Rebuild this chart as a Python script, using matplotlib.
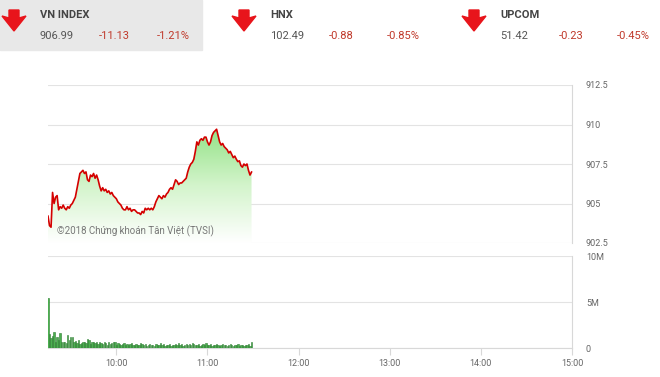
import matplotlib
matplotlib.use("Agg")
import matplotlib.pyplot as plt
from matplotlib.patches import Rectangle, Polygon
from matplotlib.colors import LinearSegmentedColormap
import numpy as np

# header quotes
names = ["VN INDEX", "HNX", "UPCOM"]
closes = ["906.99", "102.49", "51.42"]
changes = ["-11.13", "-0.88", "-0.23"]
pct_changes = ["-1.21%", "-0.85%", "-0.45%"]

# minutes since 9:15, one point per minute
start_min = 9 * 60 + 15
prices = [
    904.2, 903.6, 903.5, 905.7, 905.0, 905.4, 905.5, 904.6, 904.8, 904.7,
    904.9, 904.7, 904.6, 904.8, 904.7, 904.9, 905.0, 905.2, 905.4, 905.9,
    906.4, 906.9, 907.0, 907.1, 906.9, 907.0, 906.5, 906.4, 906.8, 906.7,
    906.9, 906.6, 906.8, 906.5, 906.1, 905.8, 906.0, 905.8, 905.9, 905.7,
    905.8, 905.6, 905.7, 905.5, 905.4, 905.3, 905.1, 905.0, 904.9, 904.7,
    904.6, 904.6, 904.8, 904.6, 904.7, 904.5, 904.6, 904.6, 904.5, 904.4,
    904.4, 904.3, 904.5, 904.4, 904.7, 904.6, 904.7, 904.6, 904.7, 904.6,
    904.8, 905.1, 905.3, 905.5, 905.4, 905.3, 905.5, 905.4, 905.6, 905.7,
    905.9, 906.0, 905.9, 906.2, 906.5, 906.4, 906.2, 906.3, 906.3, 906.4,
    906.5, 906.6, 907.0, 907.3, 907.5, 907.6, 907.8, 908.3, 908.9, 908.7,
    909.0, 909.1, 909.0, 909.2, 909.2, 908.9, 908.7, 908.9, 909.3, 909.5,
    909.6, 909.7, 909.3, 908.9, 908.7, 908.8, 908.6, 908.5, 908.4, 908.2,
    908.3, 908.1, 907.9, 908.0, 907.8, 907.65, 907.7, 907.4, 907.3, 907.5,
    907.4, 907.5, 907.1, 906.8, 906.99,
]
volumes = [  # million shares
    5.4, 1.5, 1.1, 1.3, 1.7, 0.7, 1.2, 0.9, 1.6, 0.6,
    0.6, 0.7, 0.5, 1.4, 0.9, 1.2, 1.2, 0.6, 0.8, 0.5,
    0.9, 0.4, 0.5, 0.6, 0.7, 0.5, 1.0, 0.9, 0.4, 0.6,
    0.7, 0.5, 0.6, 0.4, 0.7, 0.5, 0.4, 0.6, 0.5, 0.3,
    0.6, 0.4, 0.5, 0.6, 0.6, 0.3, 0.5, 0.4, 0.3, 0.4,
    0.5, 0.3, 0.4, 0.3, 0.4, 0.5, 0.3, 0.3, 0.4, 0.3,
    0.3, 0.5, 0.4, 0.3, 0.4, 0.2, 0.3, 0.4, 0.3, 0.3,
    0.2, 0.4, 0.3, 0.3, 0.5, 0.3, 0.4, 0.2, 0.3, 0.3,
    0.4, 0.2, 0.3, 0.3, 0.4, 0.3, 0.5, 0.3, 0.4, 0.2,
    0.3, 0.4, 0.3, 0.4, 0.3, 0.5, 0.4, 0.3, 0.3, 0.4,
    0.2, 0.3, 0.4, 0.3, 0.5, 0.3, 0.3, 0.4, 0.2, 0.3,
    0.3, 0.4, 0.3, 0.2, 0.3, 0.4, 0.3, 0.3, 0.2, 0.3,
    0.4, 0.3, 0.2, 0.3, 0.3, 0.4, 0.2, 0.3, 0.3, 0.2,
    0.3, 0.3, 0.4, 0.2, 0.7,
]
price_ticks = [902.5, 905, 907.5, 910, 912.5]
price_labels = ["902.5", "905", "907.5", "910", "912.5"]
vol_ticks = [0, 5, 10]
vol_labels = ["0", "5M", "10M"]
hour_ticks = [10, 11, 12, 13, 14, 15]
hour_labels = ["10:00", "11:00", "12:00", "13:00", "14:00", "15:00"]

plt.rcParams['font.family'] = ['Roboto', 'DejaVu Sans']

t = (start_min + np.arange(len(prices))) / 60.0
y = np.array(prices)
v = np.array(volumes)
xmin, xmax = 9.25, 15.0

fig = plt.figure(figsize=(6.6, 3.77), dpi=100)
W, H = 660, 377

# ---- header ----
fig.patches.append(Rectangle((0, 1 - 50 / H), 202 / W, 50 / H, transform=fig.transFigure,
                             color="#e8e8e8", zorder=0))
offsets = [0, 230, 460]
for k in range(3):
    ox = offsets[k]
    # red down arrow
    pts = [(ox + 9, 10), (ox + 19, 10), (ox + 19, 18), (ox + 26, 16), (ox + 14, 31),
           (ox + 2, 16), (ox + 9, 18)]
    fig.patches.append(Polygon([(px / W, 1 - py / H) for px, py in pts], closed=True,
                               transform=fig.transFigure, color="#e8141b", zorder=2))
    fig.text((ox + 40) / W, 1 - 15 / H, names[k], fontsize=8, fontweight="bold",
             color="#444444", va="center")
    fig.text((ox + 40) / W, 1 - 36 / H, closes[k], fontsize=8, color="#555555", va="center")
    fig.text((ox + 99) / W, 1 - 36 / H, changes[k], fontsize=8, color="#c0392b", va="center")
    fig.text((ox + 157) / W, 1 - 36 / H, pct_changes[k], fontsize=8, color="#c0392b", va="center")

grid_c = "#e3e3e3"
frame_c = "#d8d8d8"
lab_c = "#666666"

# ---- price panel ----
ax = fig.add_axes([48 / W, 1 - 243 / H, 524 / W, 158 / H])
ax.set_xlim(xmin, xmax)
ax.set_ylim(902.5, 912.5)

# green gradient under the line
grad = np.linspace(0, 1, 256).reshape(-1, 1)
cmap = LinearSegmentedColormap.from_list("g", ["#ffffff", "#d3f4cb", "#92e285"])
img = ax.imshow(grad, cmap=cmap, aspect="auto", origin="lower",
                extent=[t[0], t[-1], 902.5, 909.8], zorder=1)
poly_x = np.concatenate([[t[0]], t, [t[-1]]])
poly_y = np.concatenate([[902.5], y, [902.5]])
clip = Polygon(np.column_stack([poly_x, poly_y]), closed=True, transform=ax.transData,
               facecolor="none", edgecolor="none")
ax.add_patch(clip)
img.set_clip_path(clip)
ax.plot(t, y, color="#d40000", lw=1.2, zorder=3)

ax.set_yticks(price_ticks)
ax.grid(axis="y", color=grid_c, lw=0.8)
ax.set_axisbelow(True)
ax.yaxis.tick_right()
ax.set_yticklabels(price_labels)
ax.tick_params(axis="y", length=0, pad=10, labelsize=6.5, labelcolor=lab_c)
ax.set_xticks([])
for s in ["left", "top", "bottom"]:
    ax.spines[s].set_visible(False)
ax.spines["right"].set_color(frame_c)
ax.text(0.017, 0.055, "©2018 Chứng khoán Tân Việt (TVSI)", transform=ax.transAxes,
        fontsize=7, color="#777777", zorder=4)

# ---- volume panel ----
bx = fig.add_axes([48 / W, 1 - 348 / H, 524 / W, 92 / H])
bx.set_xlim(xmin, xmax)
bx.set_ylim(0, 10)
bx.bar(t, v, width=0.9 / 60, color="#4caf50", edgecolor="#2e7d32", lw=0.4, zorder=3)
bx.set_yticks(vol_ticks)
bx.grid(axis="y", color=grid_c, lw=0.8)
bx.set_axisbelow(True)
bx.yaxis.tick_right()
bx.set_yticklabels(vol_labels)
bx.tick_params(axis="y", length=0, pad=10, labelsize=6.5, labelcolor=lab_c)
bx.set_xticks(hour_ticks)
bx.set_xticklabels(hour_labels)
bx.tick_params(axis="x", length=5, width=0.8, color=frame_c, labelsize=6.5,
               labelcolor=lab_c, pad=3)
for s in ["left", "top"]:
    bx.spines[s].set_visible(False)
bx.spines["right"].set_color(frame_c)
bx.spines["bottom"].set_color(frame_c)

plt.savefig("out.png", dpi=100)
plt.close()
